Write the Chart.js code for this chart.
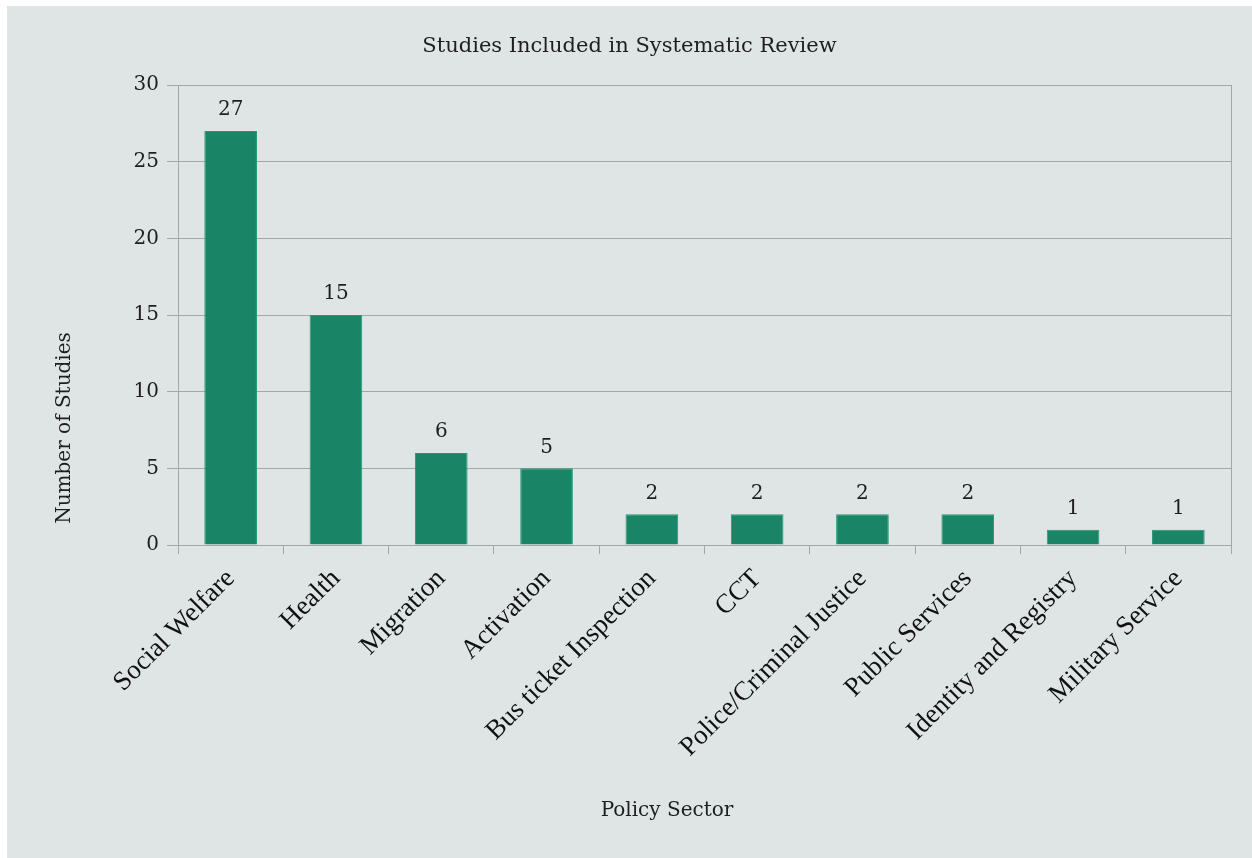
<!DOCTYPE html>
<html>
<head>
<meta charset="utf-8">
<script src="https://cdn.jsdelivr.net/npm/chart.js@4/dist/chart.umd.min.js"></script>
<style>
  html, body { margin: 0; padding: 0; background: #ffffff; }
  #wrap { position: absolute; left: 7px; top: 6px; width: 1245px; height: 852px; background: #dfe5e4; }
</style>
</head>
<body>
<div id="wrap"><canvas id="studyChart" width="1245" height="852"></canvas></div>
<script>
// sectors and number of studies
var sectors = ['Social Welfare', 'Health', 'Migration', 'Activation', 'Bus ticket Inspection',
               'CCT', 'Police/Criminal Justice', 'Public Services', 'Identity and Registry', 'Military Service'];
var studyCounts = [27, 15, 6, 5, 2, 2, 2, 2, 1, 1];
var yTicks = [0, 5, 10, 15, 20, 25, 30];

var chartTitle = 'Studies Included in Systematic Review';
var xTitle = 'Policy Sector';
var yTitle = 'Number of Studies';

var lineGrey = '#a3a8a6';
var textDark = '#1e1e1e';

// titles, value labels, right border
var extrasPlugin = {
    id: 'extras',
    afterDraw: function (chart) {
        var ctx = chart.ctx;
        var area = chart.chartArea;
        ctx.save();
        // right border of plot
        ctx.strokeStyle = lineGrey;
        ctx.lineWidth = 1;
        ctx.beginPath();
        ctx.moveTo(Math.round(area.right) + 0.5, area.top);
        ctx.lineTo(Math.round(area.right) + 0.5, area.bottom + 9);
        ctx.stroke();

        ctx.fillStyle = textDark;
        // chart title
        ctx.font = '21px "DejaVu Serif"';
        ctx.textAlign = 'center';
        ctx.textBaseline = 'middle';
        ctx.fillText(chartTitle, chart.width / 2, 41);
        // x title
        ctx.font = '20px "DejaVu Serif"';
        ctx.fillText(xTitle, 660, 805);
        // y title
        ctx.save();
        ctx.translate(58, 422);
        ctx.rotate(-Math.PI / 2);
        ctx.fillText(yTitle, 0, 0);
        ctx.restore();

        // value labels above bars
        ctx.font = '20px "DejaVu Serif"';
        ctx.textBaseline = 'bottom';
        var meta = chart.getDatasetMeta(0);
        meta.data.forEach(function (bar, i) {
            ctx.fillText(String(studyCounts[i]), bar.x, bar.y - 11);
        });
        ctx.restore();
    }
};

var ctx = document.getElementById('studyChart').getContext('2d');
var studyChart = new Chart(ctx, {
    type: 'bar',
    data: {
        labels: sectors,
        datasets: [{
            data: studyCounts,
            backgroundColor: '#1a8566',
            borderColor: '#249877',
            borderWidth: 1,
            barPercentage: 0.5,
            categoryPercentage: 1.0
        }]
    },
    options: {
        responsive: false,
        animation: false,
        layout: { padding: { top: 79, right: 21, left: 0, bottom: 0 } },
        plugins: {
            legend: { display: false },
            title: { display: false },
            tooltip: { enabled: false }
        },
        scales: {
            x: {
                offset: true,
                grid: {
                    offset: true,
                    drawOnChartArea: false,
                    drawTicks: true,
                    tickLength: 9,
                    color: lineGrey
                },
                border: { display: true, color: lineGrey },
                ticks: {
                    minRotation: 45,
                    maxRotation: 45,
                    autoSkip: false,
                    padding: 9,
                    color: '#111111',
                    font: { family: '"Liberation Serif"', size: 27 }
                },
                afterFit: function (scale) { scale.height = 313; }
            },
            y: {
                min: 0,
                max: 30,
                afterBuildTicks: function (scale) {
                    scale.ticks = yTicks.map(function (v) { return { value: v }; });
                },
                grid: { color: lineGrey, tickLength: 11 },
                border: { display: true, color: lineGrey },
                ticks: {
                    padding: 8,
                    color: textDark,
                    font: { family: '"DejaVu Serif"', size: 20 }
                },
                afterFit: function (scale) { scale.width = 171; }
            }
        }
    },
    plugins: [extrasPlugin]
});
</script>
</body>
</html>
